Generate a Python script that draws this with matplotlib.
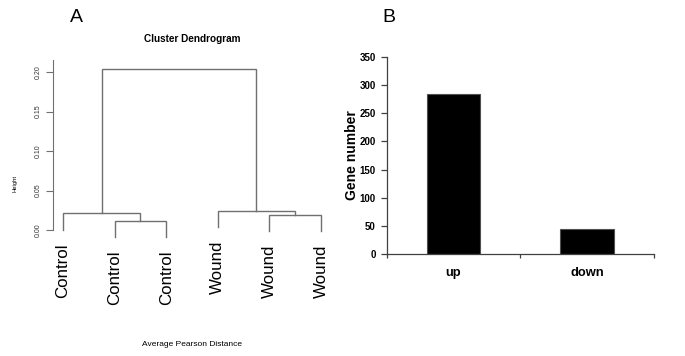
import matplotlib
matplotlib.use("Agg")
import matplotlib.pyplot as plt

plt.rcParams['font.family'] = ['Liberation Sans', 'DejaVu Sans']

# ---- data: panel A (hierarchical clustering, R-style merge matrix) ----
leaf_labels = ["Control", "Control", "Control", "Wound", "Wound", "Wound"]
merge_left = [-2, -5, -1, -4, 3]
merge_right = [-3, -6, 1, 2, 4]
merge_height = [0.012, 0.019, 0.021, 0.024, 0.204]
a_yticks = [0.00, 0.05, 0.10, 0.15, 0.20]

# ---- data: panel B ----
b_categories = ["up", "down"]
b_values = [285, 44]
b_yticks = [0, 50, 100, 150, 200, 250, 300, 350]

W, H = 685, 356
fig = plt.figure(figsize=(W / 100, H / 100), dpi=100)


def px_axes(x0, x1, ytop, ybot):
    return fig.add_axes([x0 / W, 1 - ybot / H, (x1 - x0) / W, (ybot - ytop) / H])


# ================= Panel A =================
line_col = '#707070'
axA = px_axes(52.7, 331.3, 59.4, 239.5)
axA.set_xlim(0.8, 6.2)
axA.set_ylim(-0.012, 0.216)

hang = 0.1 * max(merge_height)
node_x = {}
node_h = {}


def child_pos(idx):
    if idx < 0:
        return float(-idx), None
    return node_x[idx], node_h[idx]


for i, (l, r, h) in enumerate(zip(merge_left, merge_right, merge_height), start=1):
    xl, hl = child_pos(l)
    xr, hr = child_pos(r)
    yl = hl if hl is not None else h - hang
    yr = hr if hr is not None else h - hang
    axA.plot([xl, xl, xr, xr], [yl, h, h, yr], color=line_col, lw=1.0,
             solid_joinstyle='miter')
    node_x[i] = (xl + xr) / 2
    node_h[i] = h
    for c, cx in ((l, xl), (r, xr)):
        if c < 0:
            axA.annotate(leaf_labels[-c - 1], xy=(cx, h - hang), xytext=(0, -10),
                         textcoords='offset points', rotation=90, ha='center',
                         va='top', fontsize=12.2, color='black',
                         annotation_clip=False)

for s in ['top', 'right', 'bottom']:
    axA.spines[s].set_visible(False)
axA.spines['left'].set_bounds(0, 0.215)
axA.spines['left'].set_color(line_col)
axA.spines['left'].set_linewidth(0.8)
axA.set_xticks([])
axA.set_yticks(a_yticks)
axA.set_yticklabels([f"{v:.2f}" for v in a_yticks], rotation=90, va='center',
                    fontsize=5, color='#333333')
axA.tick_params(axis='y', length=5, width=0.8, color=line_col, pad=3)
axA.patch.set_visible(False)

fig.text(192 / W, 1 - 39 / H, "Cluster Dendrogram", ha='center', va='center',
         fontsize=7.2, fontweight='bold')
fig.text(15 / W, 1 - 183 / H, "Height", ha='center', va='center', rotation=90,
         fontsize=4.2)
fig.text(192 / W, 1 - 345 / H, "Average Pearson Distance", ha='center',
         va='center', fontsize=6)
fig.text(76 / W, 1 - 17 / H, "A", ha='center', va='center', fontsize=14)

# ================= Panel B =================
axB = px_axes(386.7, 654, 57, 254)
xs = list(range(len(b_categories)))
axB.bar(xs, b_values, width=0.4, color='black', edgecolor='#505050', lw=0.8)
axB.set_xlim(-0.5, len(b_categories) - 0.5)
axB.set_ylim(0, 350)
for s in ['top', 'right']:
    axB.spines[s].set_visible(False)
for s in ['left', 'bottom']:
    axB.spines[s].set_color('#404040')
    axB.spines[s].set_linewidth(0.9)
axB.set_yticks(b_yticks)
axB.set_yticklabels([str(v) for v in b_yticks], fontsize=7, fontweight='bold')
axB.tick_params(axis='y', length=4, width=0.9, color='#404040', pad=4)
axB.set_xticks([x - 0.5 for x in xs] + [len(b_categories) - 0.5])
axB.set_xticklabels([])
axB.tick_params(axis='x', length=3, width=0.9, color='#404040')
for x, c in zip(xs, b_categories):
    axB.annotate(c, xy=(x, 0), xytext=(0, -13.5), textcoords='offset points',
                 ha='center', va='center', fontsize=9.3, fontweight='bold',
                 annotation_clip=False)
axB.set_ylabel("Gene number", fontsize=10, fontweight='bold', labelpad=0)
fig.text(389 / W, 1 - 18 / H, "B", ha='center', va='center', fontsize=14)

fig.savefig("out.png", dpi=100)
